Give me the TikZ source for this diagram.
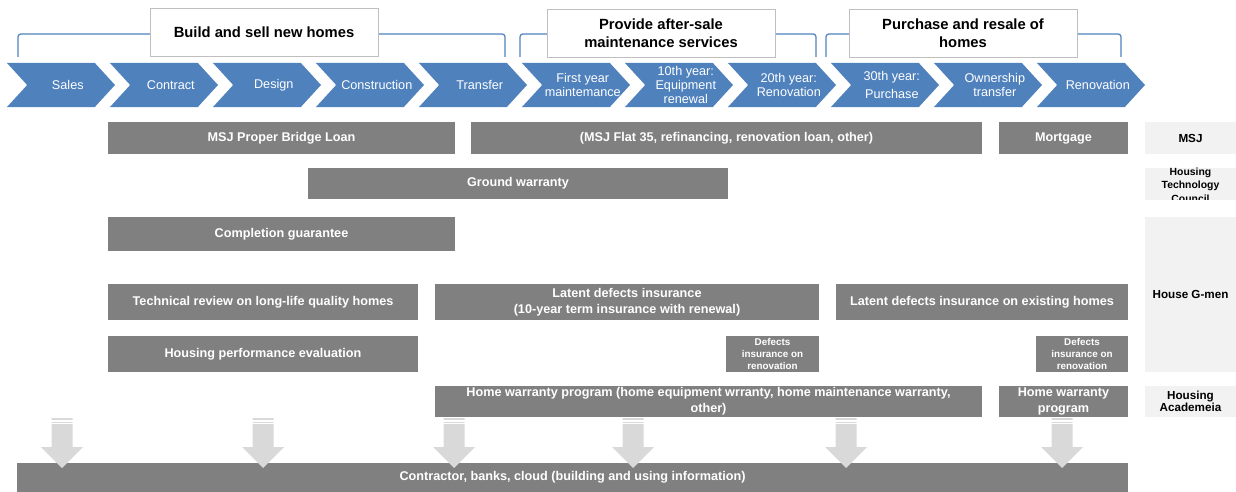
\documentclass[tikz,border=0pt]{standalone}
\usepackage{fontspec}
\setmainfont{Liberation Sans}
\usetikzlibrary{shapes.symbols,positioning}
\definecolor{stepblue}{HTML}{4F81BD}
\definecolor{bargray}{HTML}{808080}
\definecolor{arrowgray}{HTML}{D9D9D9}
\definecolor{orggray}{HTML}{F2F2F2}
\definecolor{framegray}{HTML}{BFBFBF}

\begin{document}
\begin{tikzpicture}[x=0.025cm, y=-0.025cm,
    stage/.style={signal, signal from=west, signal to=east, signal pointer angle=95,
      fill=stepblue, minimum width=2.7cm, minimum height=1.1cm, inner sep=0pt},
    stagetext/.style={text=white, inner sep=0pt, align=center, xshift=0.17cm,
      font=\fontsize{9}{10}\selectfont},
    phase/.style={draw=framegray, fill=white, minimum width=5.7cm, minimum height=1.2cm,
      align=center, font=\fontsize{10.5}{12.5}\selectfont\bfseries},
    bracket/.style={stepblue, line width=0.9pt, rounded corners=2pt},
    bar/.style={fill=bargray, text=white, inner sep=0pt, align=center,
      font=\fontsize{9}{11.5}\selectfont\bfseries},
    smallbar/.style={bar, font=\fontsize{7}{8.2}\selectfont\bfseries},
    org/.style={fill=orggray, inner sep=0pt, align=center, minimum width=2.275cm,
      font=\fontsize{8.3}{8.8}\selectfont\bfseries}]
  \useasboundingbox (0,0) rectangle (1236,492);

  % process chevrons
  \foreach \lbl [count=\i from 0] in {Sales, Contract, Design, Construction, Transfer,
      {First year\\maintemance}, {10th year:\\Equipment\\renewal}, {20th year:\\Renovation},
      {30th year:\\[3pt]Purchase}, {Ownership\\transfer}, Renovation}
    \node[stage, label={[stagetext]center:{\lbl}}] (stage\i) at ({61+103*\i}, 85) {};

  % phase brackets
  \draw[bracket] (18,57) -- (18,34) -- (505,34) -- (505,57);
  \draw[bracket] (520,57) -- (520,34) -- (816,34) -- (816,57);
  \draw[bracket] (826,57) -- (826,34) -- (1121,34) -- (1121,57);
  \node[phase] (build) at (264,32) {Build and sell new homes};
  \node[phase] (after) at (661,33) {Provide after-sale\\maintenance services};
  \node[phase] (resale) at (963,33) {Purchase and resale of\\homes};

  % services
  \node[bar, minimum width=8.675cm, minimum height=0.8cm] (bridge) at (281.5,138) {MSJ Proper Bridge Loan};
  \node[bar, minimum width=12.775cm, minimum height=0.8cm] (flat) at (726.5,138) {(MSJ Flat 35, refinancing, renovation loan, other)};
  \node[bar, minimum width=3.225cm, minimum height=0.8cm] (mortgage) at (1063.5,138) {Mortgage};
  \node[bar, minimum width=10.5cm, minimum height=0.775cm] (ground) at (518,183.5) {Ground warranty};
  \node[bar, minimum width=8.675cm, minimum height=0.85cm] (completion) at (281.5,234) {Completion guarantee};
  \node[bar, minimum width=7.75cm, minimum height=0.9cm] (review) at (263,302) {Technical review on long-life quality homes};
  \node[bar, minimum width=9.6cm, minimum height=0.9cm] (latent) at (627,302) {Latent defects insurance\\(10-year term insurance with renewal)};
  \node[bar, minimum width=7.3cm, minimum height=0.9cm] (existing) at (982,302) {Latent defects insurance on existing homes};
  \node[bar, minimum width=7.75cm, minimum height=0.9cm] (perf) at (263,354) {Housing performance evaluation};
  \node[smallbar, minimum width=2.325cm, minimum height=0.9cm] (defects) at (772.5,354) {Defects\\insurance on\\renovation};
  \node[smallbar, minimum width=2.3cm, minimum height=0.9cm] (defects2) at (1082,354) {Defects\\insurance on\\renovation};
  \node[bar, minimum width=13.675cm, minimum height=0.775cm] (warranty) at (708.5,401.5) {Home warranty program (home equipment wrranty, home maintenance warranty,\\other)};
  \node[bar, minimum width=3.225cm, minimum height=0.775cm] (warranty2) at (1063.5,401.5) {Home warranty\\program};
  \node[bar, minimum width=27.775cm, minimum height=0.725cm] (info) at (572.5,477.5) {Contractor, banks, cloud (building and using information)};

  % providers
  \node[org, minimum height=0.8cm] (msj) at (1190.5,138) {MSJ};
  \begin{scope}
    \clip (1145,168) rectangle (1236,200);
    \node[org, minimum height=0.8cm, font=\fontsize{7.4}{9.6}\selectfont\bfseries] (htc) at (1190.5,185) {Housing\\Technology\\Council};
  \end{scope}
  \node[org, minimum height=3.875cm] (gmen) at (1190.5,294.5) {House G-men};
  \node[org, minimum height=0.775cm] (academeia) at (1190.5,401.5) {Housing\\Academeia};

  % block arrows into the info bar
  \foreach \ax in {62,263,454,633,846,1062} {
    \fill[arrowgray] ({\ax-10.5},418) -- ({\ax+10.5},418) -- ({\ax+10.5},447) -- ({\ax+21},447)
      -- (\ax,468) -- ({\ax-21},447) -- ({\ax-10.5},447) -- cycle;
    \draw[white, line width=1pt] ({\ax-11},420.8) -- ({\ax+11},420.8);
    \draw[white, line width=0.7pt] ({\ax-11},423.8) -- ({\ax+11},423.8);
  }
\end{tikzpicture}
\end{document}
